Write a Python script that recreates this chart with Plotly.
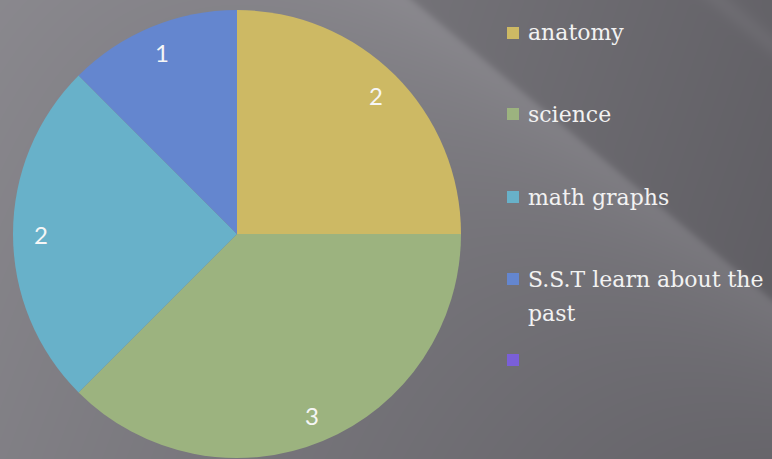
import math
import base64
import struct
import zlib
import numpy as np
import plotly.graph_objects as go

categories = ["anatomy", "science", "math graphs", "S.S.T learn about the past", ""]
values = [2, 3, 2, 1, 0]
legend_lines = [["anatomy"], ["science"], ["math graphs"], ["S.S.T learn about the", "past"], [""]]
colors = ["#cdb964", "#9cb37f", "#68b1c9", "#6486cf", "#7a5fd8"]

W, H = 772, 459
# pie geometry (pixels)
CX, CY, R = 237, 234, 224


def background_png():
    yy, xx = np.mgrid[0:H, 0:W].astype(float)
    b = 136 - 0.042 * xx - 0.015 * yy
    # diagonal highlight band (line through (460,40) with direction (0.768,0.640))
    nx, ny = -0.640, 0.768
    d = (xx - 460) * nx + (yy - 40) * ny
    edge = 1 / (1 + np.exp(-d / 2.0))
    b = b + edge * 20 * np.exp(-np.clip(d, 0, None) / 110) - (1 - edge) * 3
    # small streak at the top-right corner
    d2 = (xx - 700) * nx + (yy - 0) * ny
    b = b + 7 * np.exp(-((d2 + 12) / 10) ** 2)
    b = np.clip(b, 0, 255)
    rgb = np.stack([b, b - 1.5, b + 4], axis=-1)
    arr = np.clip(rgb, 0, 255).astype(np.uint8)
    raw = b"".join(b"\x00" + arr[i].tobytes() for i in range(H))

    def chunk(tag, data):
        c = struct.pack(">I", len(data)) + tag + data
        return c + struct.pack(">I", zlib.crc32(tag + data) & 0xFFFFFFFF)

    png = b"\x89PNG\r\n\x1a\n" + chunk(b"IHDR", struct.pack(">IIBBBBB", W, H, 8, 2, 0, 0, 0))
    png += chunk(b"IDAT", zlib.compress(raw, 9)) + chunk(b"IEND", b"")
    return "data:image/png;base64," + base64.b64encode(png).decode()


fig = go.Figure()
fig.add_trace(go.Pie(
    labels=categories,
    values=values,
    textinfo="none",
    sort=False,
    direction="clockwise",
    rotation=0,
    marker=dict(colors=colors, line=dict(width=0)),
    domain=dict(x=[(CX - R) / W, (CX + R) / W], y=[(H - CY - R) / H, (H - CY + R) / H]),
    showlegend=False,
    hoverinfo="label+value",
))


def px(x, y):
    return x / W, 1 - y / H


shapes = []
annotations = []

# slice value labels
total = sum(values)
cum = 0
for v in values:
    if v:
        mid = 2 * math.pi * (cum + v / 2) / total
        x = CX + 0.875 * R * math.sin(mid)
        y = CY - 0.875 * R * math.cos(mid)
        xp, yp = px(x, y)
        annotations.append(dict(x=xp, y=yp, xref="paper", yref="paper", text=str(v),
                                showarrow=False, xanchor="center", yanchor="middle",
                                font=dict(family="Lato", size=24, color="#f6f6f6")))
    cum += v

# legend
item_y = [33, 114, 197, 279, 360]
line_step = 34
for lines, c, yc in zip(legend_lines, colors, item_y):
    x0, y0 = px(507, yc - 6)
    x1, y1 = px(519, yc + 6)
    shapes.append(dict(type="rect", xref="paper", yref="paper",
                       x0=x0, x1=x1, y0=y1, y1=y0, fillcolor=c, line=dict(width=0)))
    for i, ln in enumerate(lines):
        if not ln:
            continue
        xa, ya = px(526, yc + i * line_step)
        annotations.append(dict(x=xa, y=ya, xref="paper", yref="paper",
                                text=ln, showarrow=False, xanchor="left", yanchor="middle",
                                font=dict(family="DejaVu Serif", size=22, color="#f2f2f2")))

fig.update_layout(
    width=W, height=H,
    margin=dict(l=0, r=0, t=0, b=0),
    paper_bgcolor="#646368",
    plot_bgcolor="rgba(0,0,0,0)",
    shapes=shapes,
    annotations=annotations,
    images=[dict(source=background_png(), xref="paper", yref="paper", x=0, y=1,
                 sizex=1, sizey=1, xanchor="left", yanchor="top", sizing="stretch",
                 layer="below")],
    showlegend=False,
)

fig.write_html("out.html", config={"displayModeBar": False},
               post_script="document.body.style.margin='0';document.body.style.overflow='hidden';")
